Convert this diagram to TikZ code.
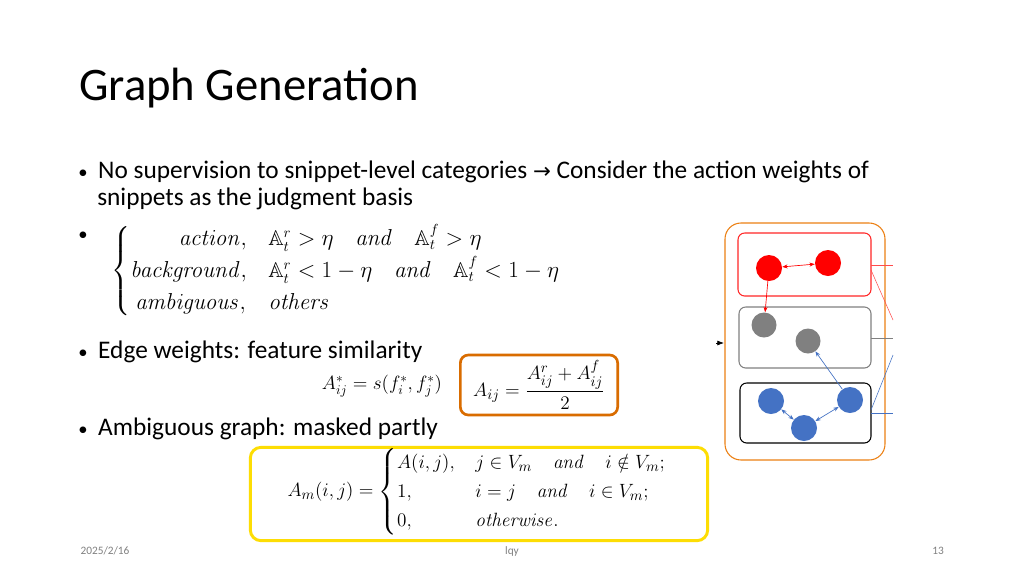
\documentclass[tikz,border=0pt]{standalone}
\usepackage{amsmath,amssymb}
\usepackage[no-math]{fontspec}
\setmainfont{Carlito}
\newfontfamily\symfont{DejaVu Sans}
\usetikzlibrary{arrows.meta}
\definecolor{nodeblue}{RGB}{68,114,196}
\newcommand{\bul}{{\fontsize{14}{16}\selectfont\textbullet}\hspace{8pt}}
\begin{document}
\begin{tikzpicture}[x=0.75pt,y=-0.75pt,
  txt/.style={anchor=base west,inner sep=0,font=\fontsize{19}{22}\selectfont},
  foot/.style={anchor=base,inner sep=0,font=\fontsize{8.5}{10}\selectfont,text=gray},
  dot/.style={circle,minimum size=#1*0.75pt,inner sep=0},
  rbox/.style={draw,rounded corners=5pt,line width=0.8pt}]
\useasboundingbox[fill=white] (0,0) rectangle (1024,576);
\node[anchor=base west,inner sep=0,font=\fontsize{35}{40}\selectfont] (title) at (79,100) {Graph Generation};
\node[txt] (b1) at (78,178) {\bul No supervision to snippet-level categories {\symfont\fontsize{16}{18}\selectfont→} Consider the action weights of};
\node[txt] (b1b) at (97,205) {snippets as the judgment basis};
\node[txt] (b2) at (78,240) {\bul};
\node[inner sep=0,font=\fontsize{16}{20}\selectfont] (cases) at (336,271) {$\begin{cases}\hfill \mathit{action}, & \mathbb{A}_t^r>\eta \quad \mathit{and} \quad \mathbb{A}_t^f>\eta\\ \mathit{background}, & \mathbb{A}_t^r<1-\eta \quad \mathit{and} \quad \mathbb{A}_t^f<1-\eta\\ \ \mathit{ambiguous}, & \mathit{others}\end{cases}$};
\node[txt] (b3) at (78,358) {\bul Edge weights: feature similarity};
\node[inner sep=0,font=\fontsize{14.5}{18}\selectfont] (sim) at (382,386) {$A_{ij}^*=s(f_i^*,f_j^*)$};
\node[draw=orange!85!black,line width=2pt,rounded corners=6pt,minimum width=118pt,minimum height=45pt,inner sep=0,font=\fontsize{15.5}{18}\selectfont] (aij) at (539,385) {$A_{ij}=\dfrac{A_{ij}^r+A_{ij}^f}{2}$};
\node[txt] (b4) at (78,435) {\bul Ambiguous graph: masked partly};
\node[draw=yellow!80!orange,line width=2.2pt,rounded corners=8pt,minimum width=343pt,minimum height=70pt,inner sep=0] (am) at (479,494) {};
\node[inner sep=0,font=\fontsize{15.5}{18}\selectfont] (amf) at (477,492) {\def\arraystretch{0.85}$A_m(i,j)=\begin{cases}A(i,j), & j\in V_m \quad \mathit{and} \quad i\notin V_m;\\ 1, & i=j \quad \mathit{and} \quad i\in V_m;\\ 0, & \mathit{otherwise}.\end{cases}$};
\node[foot] (f1) at (105,554) {2025/2/16};
\node[foot] (f2) at (512,554) {lqy};
\node[foot] (f3) at (938,554) {13};
% right diagram
\draw[rbox,draw=orange!70!brown,rounded corners=12pt] (725,223) rectangle (885,460);
\draw[rbox,draw=red!85] (738,233) rectangle (871,296);
\draw[rbox,draw=gray] (739,307) rectangle (871,368);
\draw[rbox,draw=black] (740,383) rectangle (871,443);
\node[dot=26,fill=red] (r1) at (769,268) {};
\node[dot=26,fill=red] (r2) at (828,263) {};
\node[dot=25,fill=gray] (g1) at (764,325) {};
\node[dot=25,fill=gray] (g2) at (808,341) {};
\node[dot=26,fill=nodeblue] (u1) at (771,401) {};
\node[dot=26,fill=nodeblue] (u2) at (850,400) {};
\node[dot=26,fill=nodeblue] (u3) at (804,428) {};
\draw[red,{Stealth[length=4pt]}-{Stealth[length=4pt]},line width=0.5pt] (r1) -- (r2);
\draw[red,-{Stealth[length=4pt]},line width=0.5pt] (r1) -- (g1);
\draw[nodeblue,-{Stealth[length=4pt]},line width=0.5pt] (u2) -- (g2);
\draw[nodeblue,{Stealth[length=4pt]}-{Stealth[length=4pt]},line width=0.5pt] (u1) -- (u3);
\draw[nodeblue,{Stealth[length=4pt]}-{Stealth[length=4pt]},line width=0.5pt] (u3) -- (u2);
\coordinate (e1) at (893,265); \coordinate (e2) at (893,320);
\coordinate (e3) at (893,338); \coordinate (e4) at (893,413);
\coordinate (e5) at (893,355);
\draw[red!70,line width=0.4pt] (871,265) -- (e1);
\draw[red!70,line width=0.4pt] (871,270) -- (e2);
\draw[gray,line width=0.4pt] (871,338) -- (e3);
\draw[nodeblue,line width=0.4pt] (871,413) -- (e4);
\draw[nodeblue,line width=0.4pt] (871,410) -- (e5);
\coordinate (ar0) at (716,343);
\draw[-{Latex[length=5pt]},line width=0.5pt] (ar0) -- ++(8,0);
\end{tikzpicture}
\end{document}
